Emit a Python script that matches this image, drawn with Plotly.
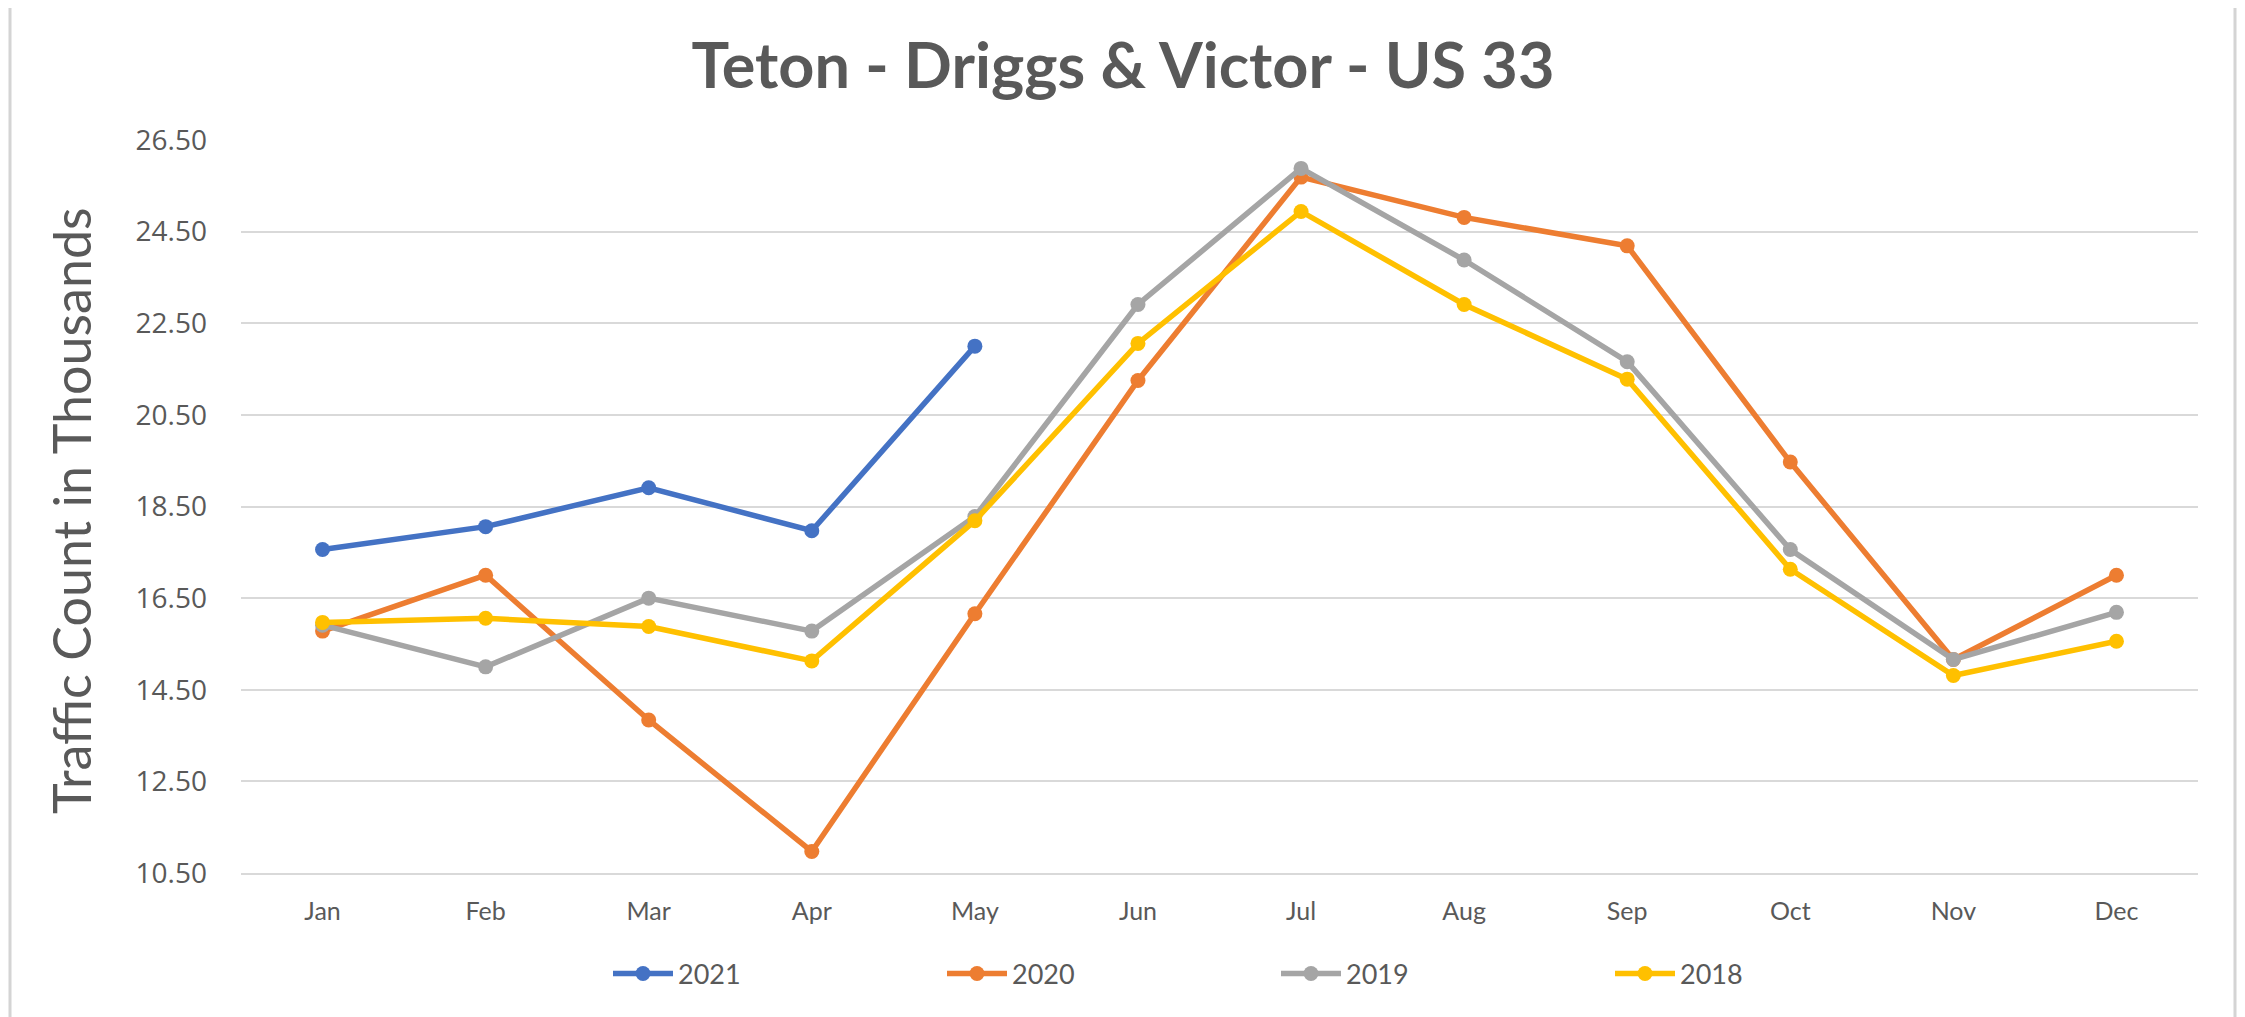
import plotly.graph_objects as go

months = ["Jan", "Feb", "Mar", "Apr", "May", "Jun", "Jul", "Aug", "Sep", "Oct", "Nov", "Dec"]
y2021 = [17.56, 18.06, 18.91, 17.97, 22.00]
y2020 = [15.78, 17.00, 13.84, 10.97, 16.16, 21.25, 25.69, 24.81, 24.19, 19.47, 15.16, 17.00]
y2019 = [15.91, 15.00, 16.50, 15.78, 18.28, 22.91, 25.88, 23.88, 21.66, 17.56, 15.16, 16.19]
y2018 = [15.97, 16.06, 15.88, 15.13, 18.19, 22.06, 24.94, 22.91, 21.28, 17.13, 14.81, 15.56]
tick_vals = [10.5, 12.5, 14.5, 16.5, 18.5, 20.5, 22.5, 24.5, 26.5]
tick_text = ["10.50", "12.50", "14.50", "16.50", "18.50", "20.50", "22.50", "24.50", "26.50"]

series = [
    ("2021", y2021, "#4472C4"),
    ("2020", y2020, "#ED7D31"),
    ("2019", y2019, "#A5A5A5"),
    ("2018", y2018, "#FFC000"),
]

OFF = 8  # page body margin
W, H = 2245 - OFF, 1017 - OFF
PX0, PX1 = 241 - OFF, 2198 - OFF   # plot area in figure px
PY0, PY1 = 140 - OFF, 873 - OFF
L, R, T, B = PX0, W - PX1, PY0, H - PY1
PW, PH = PX1 - PX0, PY1 - PY0


def fx(sx):
    return (sx - OFF - PX0) / PW


def fy(sy):
    return (PY1 - (sy - OFF)) / PH


fig = go.Figure()
for name, vals, color in series:
    fig.add_trace(go.Scatter(
        x=months[:len(vals)], y=vals, name=name, mode="lines+markers",
        line=dict(color=color, width=5.5),
        marker=dict(color=color, size=15),
    ))

fig.update_layout(
    width=W, height=H,
    margin=dict(l=L, r=R, t=T, b=B, autoexpand=False),
    paper_bgcolor="white", plot_bgcolor="white",
    title=dict(text="<b>Teton - Driggs & Victor - US 33</b>",
               x=(1123 - OFF) / W, xanchor="center",
               y=1 - (66 - OFF) / H, yanchor="middle",
               font=dict(family="Lato", size=63, color="#595959")),
    xaxis=dict(categoryorder="array", categoryarray=months, range=[-0.5, 11.5],
               showgrid=False, showline=True, linecolor="#d9d9d9", linewidth=1.5,
               ticks="", automargin=False,
               tickfont=dict(family="Lato", size=25, color="#595959"),
               ticklabelstandoff=15),
    yaxis=dict(range=[10.5, 26.5], tickvals=tick_vals, ticktext=tick_text,
               showgrid=True, gridcolor="#d9d9d9", gridwidth=1.5, zeroline=False,
               showline=False, ticks="", automargin=False,
               tickfont=dict(family="Open Sans", size=28, color="#595959"),
               ticklabelstandoff=33),
    annotations=[dict(text="Traffic Count in Thousands", textangle=-90,
                      xref="paper", yref="paper", x=fx(71), y=fy(511),
                      xanchor="center", yanchor="middle", showarrow=False,
                      font=dict(family="Lato", size=52, color="#595959"))],
    showlegend=True,
    legend=dict(orientation="h", x=fx(608), xanchor="left",
                y=fy(974), yanchor="middle",
                entrywidth=259, entrywidthmode="pixels",
                font=dict(family="Lato", size=27, color="#595959"),
                itemwidth=60, bgcolor="rgba(0,0,0,0)"),
    shapes=[
        dict(type="line", xref="paper", yref="paper",
             x0=fx(10), x1=fx(10), y0=fy(0), y1=fy(1030),
             line=dict(color="#d4d4d4", width=3)),
        dict(type="line", xref="paper", yref="paper",
             x0=fx(2235), x1=fx(2235), y0=fy(0), y1=fy(1030),
             line=dict(color="#d4d4d4", width=3)),
    ],
)

fig.write_html("out.html")
